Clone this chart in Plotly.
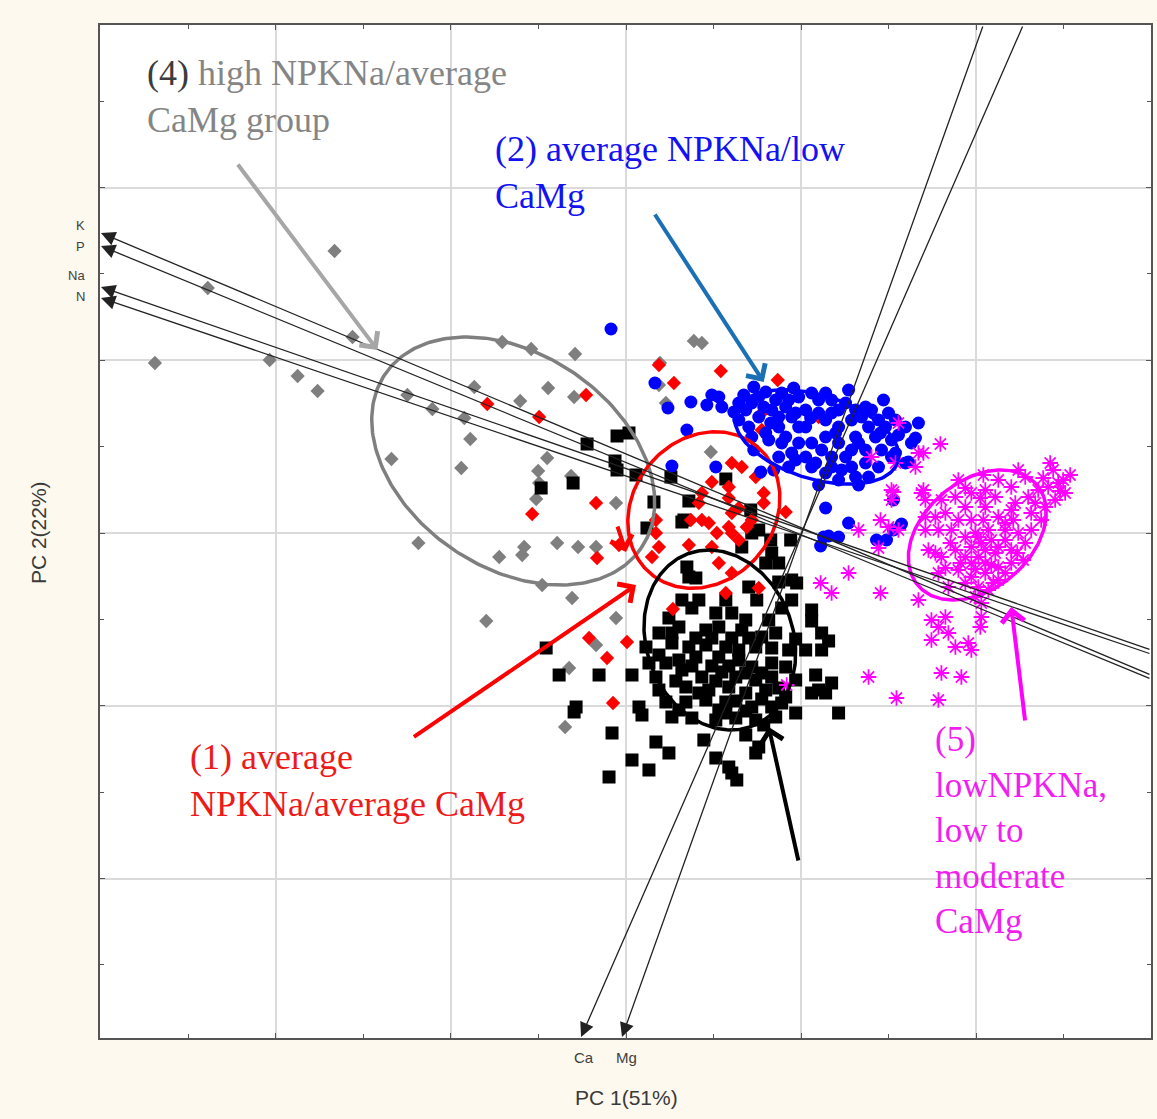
import numpy as np
import plotly.graph_objects as go

# ---- PCA scores (PC1, PC2) for each soil group ----
group4_scores = [(-4.72, 1.70), (-4.19, 2.45), (-3.57, 1.73), (-3.29, 1.57), (-3.09, 1.42), (-2.92, 2.82),
                 (-2.74, 1.96), (-2.35, 0.74), (-2.08, -0.10), (-2.19, 1.38), (-1.94, 1.24), (-1.62, 1.15),
                 (-1.52, 1.46), (-1.56, 0.94), (-1.65, 0.65), (-1.24, 1.91), (-0.95, 1.84), (-0.51, 1.79),
                 (-0.78, 1.45), (-0.52, 1.36), (-1.06, 1.32), (0.34, 1.70), (0.33, 1.48), (0.40, 1.30),
                 (0.68, 1.92), (0.76, 1.90), (0.85, 0.81), (-0.79, 0.75), (-0.88, 0.62), (-0.87, 0.50),
                 (-0.90, 0.34), (-0.55, 0.57), (-0.10, 0.30), (-0.69, -0.10), (-1.02, -0.14), (-1.04, -0.22),
                 (-0.48, -0.14), (-0.30, -0.14), (-1.27, -0.24), (-0.84, -0.52), (-0.54, -0.65), (-0.10, -0.85),
                 (-0.30, -1.12), (-0.57, -1.35), (-0.61, -1.94), (-1.40, -0.88)]

group3_scores = [(-0.09, 0.97), (-0.39, 0.89), (0.03, 1.00), (-0.11, 0.72), (-0.09, 0.63), (0.10, 0.58),
                 (0.45, 0.56), (1.00, 0.54), (-0.53, 0.50), (-0.85, 0.45), (0.28, 0.31), (0.63, 0.32),
                 (0.58, 0.13), (0.21, 0.05), (1.25, 0.23), (1.33, 0.03), (1.26, 0.00), (1.45, -0.07),
                 (1.16, -0.14), (1.65, -0.07), (1.46, -0.20), (1.53, -0.30), (1.40, -0.30), (1.66, -0.47),
                 (1.71, -0.50), (1.23, -0.54), (0.61, -0.34), (0.63, -0.44), (0.56, 0.11), (0.70, -0.45),
                 (1.53, -0.49), (0.56, -0.67), (1.00, -0.67), (1.31, -0.67), (1.86, -0.77), (1.86, -0.88),
                 (0.43, -0.85), (0.66, -0.75), (1.20, -0.87), (1.43, -0.87), (0.33, -1.00), (0.53, -0.94),
                 (0.80, -0.97), (0.93, -0.94), (1.16, -0.97), (1.36, -1.04), (1.96, -1.00), (2.03, -1.08),
                 (0.20, -1.14), (0.46, -1.10), (0.63, -1.14), (0.80, -1.12), (1.00, -1.14), (1.13, -1.17),
                 (1.30, -1.14), (1.46, -1.15), (1.63, -1.17), (1.80, -1.17), (1.96, -1.17), (0.23, -1.30),
                 (0.53, -1.27), (0.70, -1.24), (0.93, -1.24), (1.13, -1.27), (1.26, -1.34), (1.46, -1.30),
                 (1.60, -1.34), (0.30, -1.44), (0.56, -1.37), (0.76, -1.44), (0.96, -1.39), (1.10, -1.44),
                 (1.30, -1.47), (1.46, -1.44), (1.70, -1.47), (1.90, -1.42), (2.06, -1.50), (0.33, -1.57),
                 (0.60, -1.54), (0.83, -1.57), (1.03, -1.54), (1.20, -1.60), (1.40, -1.57), (1.60, -1.64),
                 (1.86, -1.60), (2.00, -1.60), (0.40, -1.69), (0.60, -1.69), (0.80, -1.67), (1.00, -1.69),
                 (1.26, -1.74), (1.46, -1.74), (1.70, -1.80), (2.13, -1.80), (0.46, -1.84), (0.66, -1.85),
                 (0.90, -1.87), (1.10, -1.85), (1.30, -1.87), (1.50, -1.84), (1.20, -2.02), (1.33, -2.14),
                 (1.30, -2.20), (0.16, -1.82), (0.13, -1.74), (-0.14, -2.00), (0.30, -2.09), (0.43, -2.20),
                 (0.06, -2.27), (0.23, -2.37), (0.90, -2.25), (1.03, -2.34), (1.06, -2.40), (1.11, -2.47),
                 (-0.17, -2.44), (-0.50, -1.74), (-0.67, -1.42), (-0.27, -1.42), (0.06, -1.42), (-0.80, -1.15),
                 (-0.52, -1.79), (1.66, -0.67), (1.93, -1.57), (0.73, -0.67), (0.33, -1.22), (0.93, -1.77),
                 (1.38, -1.92), (0.78, -2.07), (0.70, -1.05), (0.86, -1.05), (1.06, -1.05), (1.23, -1.05),
                 (0.66, -1.33), (0.86, -1.33), (1.03, -1.33), (1.20, -1.40), (1.36, -1.40), (0.50, -1.48),
                 (0.90, -1.48), (1.53, -1.55), (0.73, -1.60), (1.10, -1.68), (1.36, -1.66), (1.56, -1.70),
                 (0.53, -1.77), (1.00, -1.80), (1.20, -1.78), (0.40, -1.30), (0.46, -1.00), (1.06, -0.80),
                 (0.90, -0.80), (1.56, -0.75), (1.50, -1.00), (1.70, -1.06)]

group1_scores = [(-0.40, 1.38), (-0.87, 1.16), (0.33, 1.68), (0.48, 1.50), (0.95, 1.62), (1.52, 1.53),
                 (1.36, 1.20), (1.36, 1.03), (1.93, 1.16), (-0.30, 0.30), (-0.94, 0.19), (-0.29, -0.25),
                 (-0.07, -0.12), (1.06, 0.70), (1.16, 0.66), (0.86, 0.51), (1.03, 0.46), (1.30, 0.56),
                 (1.38, 0.40), (1.38, 0.30), (1.60, 0.21), (0.76, 0.40), (0.73, 0.30), (1.03, 0.35),
                 (1.13, 0.25), (0.65, 0.13), (0.76, 0.13), (0.83, 0.10), (1.06, 0.20), (1.03, 0.06),
                 (0.91, 0.00), (1.06, 0.00), (1.21, 0.06), (1.26, 0.13), (0.30, 0.13), (0.30, 0.00),
                 (0.33, -0.14), (0.26, -0.24), (0.86, -0.14), (0.93, -0.30), (1.06, -0.40), (-0.37, -1.05),
                 (0.01, -1.09), (-0.19, -1.25), (-0.13, -1.70), (1.00, -0.60), (0.47, -0.76), (1.33, -0.55),
                 (-1.39, 1.29), (1.13, -0.07), (0.63, -0.12)]

group2_scores = [(-0.15, 2.04), (0.29, 1.50), (0.42, 1.25), (0.65, 1.31), (0.81, 1.28), (0.86, 1.38),
                 (0.93, 1.36), (0.96, 1.26), (0.61, 1.03), (1.28, 1.46), (0.46, 0.67), (0.90, 0.66),
                 (1.35, 0.61), (2.00, 0.25), (2.23, 0.10), (1.98, -0.04), (2.13, -0.04), (1.95, -0.13),
                 (2.51, -0.07), (2.61, -0.07), (2.76, 0.09), (2.83, 0.71), (2.68, 0.33), (2.03, -0.03),
                 (2.68, 0.03), (1.13, 1.30), (1.20, 1.23), (1.13, 1.13), (1.23, 1.06), (1.33, 1.36),
                 (1.40, 1.41), (1.50, 1.33), (1.46, 1.23), (1.60, 1.26), (1.66, 1.16), (1.53, 1.06),
                 (1.73, 1.06), (1.80, 1.23), (1.86, 1.40), (1.93, 1.33), (2.00, 1.40), (2.06, 1.33),
                 (2.13, 1.23), (2.00, 1.13), (2.13, 1.06), (2.20, 1.30), (2.30, 1.23), (2.40, 1.26),
                 (2.46, 1.23), (2.53, 1.13), (2.60, 1.06), (2.70, 1.13), (2.80, 1.06), (2.43, 1.06),
                 (2.30, 0.96), (2.00, 0.96), (1.86, 0.90), (1.73, 0.90), (1.56, 0.90), (1.43, 0.93),
                 (1.66, 0.80), (1.80, 0.76), (1.90, 0.70), (2.06, 0.76), (2.20, 0.76), (2.40, 0.83),
                 (2.56, 0.83), (2.66, 0.76), (2.80, 0.70), (2.16, 0.63), (2.30, 0.56), (2.00, 0.60),
                 (1.86, 0.66), (1.53, 0.76), (1.63, 0.66), (2.53, 0.66), (2.43, 0.56), (2.13, 0.53),
                 (2.50, 0.96), (2.66, 0.93), (1.73, 1.36), (1.33, 1.16), (1.80, 1.06), (1.53, 1.16),
                 (2.13, 0.90), (2.26, 0.83), (1.08, 1.21), (1.68, 1.45), (2.23, 1.43), (2.58, 1.33),
                 (2.33, 0.48), (1.93, 0.48), (1.48, 0.63), (1.28, 0.83), (1.18, 1.38), (1.26, 1.30),
                 (1.38, 1.26), (1.56, 1.40), (1.63, 1.33), (1.93, 1.20), (2.06, 1.20), (2.26, 1.13),
                 (2.36, 1.16), (2.63, 1.20), (2.73, 0.98), (2.86, 0.90), (2.40, 0.70), (2.26, 0.66),
                 (2.06, 0.66), (1.70, 0.73), (1.60, 0.96), (1.40, 1.00), (1.96, 0.83), (2.33, 0.90),
                 (2.70, 0.80), (2.55, 1.00), (2.10, 1.00), (1.85, 1.15), (1.45, 1.10), (1.26, 0.96),
                 (2.90, 0.95), (2.93, 1.10), (1.70, 1.20)]

group5_scores = [(3.15, 0.89), (2.98, 0.80), (2.90, 0.66), (2.68, 0.41), (2.98, 0.43), (3.00, 0.33),
                 (2.55, 0.13), (2.33, 0.03), (2.63, 0.06), (2.53, -0.15), (2.23, -0.40), (1.95, -0.50),
                 (2.06, -0.60), (2.55, -0.60), (2.93, -0.67), (3.06, -0.87), (3.20, -0.84), (3.13, -0.94),
                 (3.56, -0.84), (3.55, -0.94), (3.06, -1.07), (3.23, -1.00), (3.30, -1.14), (3.43, -1.10),
                 (3.46, -1.17), (2.43, -1.44), (3.16, -1.40), (3.36, -1.44), (2.71, -1.65), (3.13, -1.67),
                 (2.73, 1.10), (2.46, 0.76), (2.70, 0.70), (2.93, 0.80), (2.66, 0.43), (2.66, 0.33),
                 (2.73, 0.03), (2.96, 0.40), (3.00, 0.16), (3.16, 0.33), (3.30, 0.36), (3.40, 0.26),
                 (3.60, 0.26), (3.46, 0.13), (3.73, 0.16), (3.86, 0.23), (4.06, 0.20), (4.03, 0.36),
                 (3.86, 0.46), (3.73, 0.53), (3.60, 0.43), (3.46, 0.40), (4.00, 0.56), (4.23, 0.46),
                 (4.33, 0.50), (4.40, 0.40), (4.30, 0.33), (4.20, 0.26), (4.16, 0.13), (4.06, 0.03),
                 (3.93, 0.00), (3.80, 0.03), (3.63, 0.03), (3.53, -0.04), (3.40, -0.04), (3.26, 0.03),
                 (3.13, 0.03), (3.00, 0.03), (3.03, -0.17), (3.16, -0.24), (3.30, -0.17), (3.46, -0.14),
                 (3.60, -0.17), (3.73, -0.14), (3.86, -0.17), (4.00, -0.10), (3.60, -0.30), (3.46, -0.30),
                 (3.33, -0.37), (3.46, -0.44), (3.60, -0.40), (3.73, -0.34), (3.86, -0.30), (3.73, -0.47),
                 (3.53, -0.54), (3.40, -0.50), (3.23, -0.54), (3.13, -0.40), (3.33, 0.13), (3.20, 0.20),
                 (3.10, 0.16), (3.66, -0.07), (3.80, -0.07), (3.53, -0.24), (3.40, -0.24), (3.63, -0.57),
                 (3.50, -0.64), (4.18, 0.55), (4.28, 0.63), (4.38, 0.53), (4.13, 0.43), (3.93, 0.63),
                 (3.58, 0.58), (3.33, 0.53), (3.88, 0.13), (3.58, 0.13), (3.98, -0.27), (1.61, -1.52),
                 (3.50, 0.00), (3.56, -0.10), (3.70, -0.20), (3.66, -0.32), (3.50, -0.36), (3.80, 0.10),
                 (3.90, 0.30), (4.10, 0.30), (3.70, 0.36), (3.55, 0.35), (3.40, 0.45), (4.45, 0.58),
                 (4.25, 0.70), (4.35, 0.42), (3.25, -0.10), (3.35, -0.30), (3.80, -0.40), (3.68, -0.50),
                 (3.56, -0.70), (3.92, -0.20), (3.20, -0.35), (3.10, -0.20)]

# ---- Confidence ellipses per group: centre PC1, centre PC2, semi-major, semi-minor, angle (deg) ----
ellipse_groups = ["4", "1", "3", "2", "5"]
ellipse_c1 = [-1.13, 0.78, 0.94, 1.91, 3.52]
ellipse_c2 = [0.72, 0.23, -1.07, 0.96, -0.02]
ellipse_a = [1.55, 0.83, 0.92, 0.85, 0.78]
ellipse_b = [1.07, 0.71, 0.735, 0.42, 0.54]
ellipse_angle = [-34, 50, -69.6, -17, 40]

# ---- Variable loading axes (arrow tip and opposite end, in PC units) ----
loading_names = ["K", "P", "Na", "N", "Ca", "Mg"]
loading_tip_pc1 = [-5.26, -5.26, -5.26, -5.26, -0.45, -0.04]
loading_tip_pc2 = [3.00, 2.87, 2.46, 2.35, -5.04, -5.04]
loading_end_pc1 = [5.26, 5.26, 5.26, 5.26, 3.98, 3.58]
loading_end_pc2 = [-1.42, -1.46, -1.17, -1.21, 5.08, 5.08]

X_RANGE = [-5.27, 5.26]
Y_RANGE = [-5.05, 5.08]

fig = go.Figure()


def add_group(scores, symbol, color, size, line=None):
    xs, ys = zip(*scores)
    marker = dict(symbol=symbol, size=size, color=color)
    marker["line"] = line if line else dict(width=0)
    fig.add_trace(go.Scatter(x=xs, y=ys, mode="markers", marker=marker,
                             hoverinfo="x+y", showlegend=False))


add_group(group4_scores, "diamond", "#7f7f7f", 11)
add_group(group3_scores, "square", "#000000", 13)
add_group(group1_scores, "diamond", "#ff0000", 11)
add_group(group2_scores, "circle", "#0000ff", 13)
add_group(group5_scores, "asterisk-open", "#ff00ff", 13, line=dict(color="#ff00ff", width=1.8))

ellipse_colors = {"4": "#7f7f7f", "1": "#ff0000", "3": "#000000", "2": "#0000ff", "5": "#ff00ff"}
t = np.linspace(0, 2 * np.pi, 240)
for g, cx, cy, a, b, ang in zip(ellipse_groups, ellipse_c1, ellipse_c2, ellipse_a, ellipse_b, ellipse_angle):
    th = np.radians(ang)
    ex = cx + a * np.cos(t) * np.cos(th) - b * np.sin(t) * np.sin(th)
    ey = cy + a * np.cos(t) * np.sin(th) + b * np.sin(t) * np.cos(th)
    fig.add_trace(go.Scatter(x=ex, y=ey, mode="lines",
                             line=dict(color=ellipse_colors[g], width=3.5),
                             hoverinfo="skip", showlegend=False))

annotations = []

# loading axes drawn as long arrows ending at the frame
for name, tx, ty, ex, ey in zip(loading_names, loading_tip_pc1, loading_tip_pc2,
                                loading_end_pc1, loading_end_pc2):
    annotations.append(dict(x=tx, y=ty, ax=ex, ay=ey, xref="x", yref="y", axref="x", ayref="y",
                            text="", showarrow=True, arrowhead=2, arrowsize=2.2,
                            arrowwidth=1.3, arrowcolor="#222222", standoff=0))

label_font = dict(family="Liberation Sans, Arial, sans-serif", size=13, color="#404040")
for name, ty in zip(["K", "P", "Na", "N"], [3.08, 2.87, 2.58, 2.37]):
    annotations.append(dict(x=-0.012, y=ty, xref="paper", yref="y", text=name, showarrow=False,
                            xanchor="right", yanchor="middle", font=label_font))
ca_font = dict(family="Liberation Sans, Arial, sans-serif", size=15, color="#404040")
for name, tx in zip(["Ca", "Mg"], [-0.42, 0.0]):
    annotations.append(dict(x=tx, y=-0.0197, xref="x", yref="paper", text=name, showarrow=False,
                            xanchor="center", yanchor="middle", font=ca_font))

# axis titles
title_font = dict(family="Liberation Sans, Arial, sans-serif", size=21, color="#3a3a3a")
annotations.append(dict(x=0.5005, y=-0.0592, xref="paper", yref="paper", text="PC 1(51%)",
                        showarrow=False, xanchor="center", yanchor="middle", font=title_font))
annotations.append(dict(x=-0.0589, y=0.4985, xref="paper", yref="paper", text="PC 2(22%)",
                        showarrow=False, xanchor="center", yanchor="middle", textangle=-90,
                        font=title_font))

# group descriptions
serif = "Liberation Serif, Times New Roman, serif"
group_texts = [
    ('<span style="color:#3c3c3c">(4)</span> high NPKNa/average<br>CaMg group', "#858585", 0.0427, 0.9294, 36),
    ("(2) average NPKNa/low<br>CaMg", "#1212f2", 0.3742, 0.8544, 36),
    ("(1) average<br>NPKNa/average CaMg", "#ee1a1a", 0.0836, 0.2542, 36),
    ("(5)<br>lowNPKNa,<br>low to<br>moderate<br>CaMg", "#f21ef0", 0.7930, 0.2048, 35),
]
for text, col, px, py, fs in group_texts:
    annotations.append(dict(x=px, y=py, xref="paper", yref="paper", text=text, showarrow=False,
                            xanchor="left", yanchor="middle", align="left",
                            font=dict(family=serif, size=fs, color=col)))

# pointer arrows from descriptions to the ellipses
pointers = [
    ((-3.90, 3.70), (-2.49, 1.83), "#a6a6a6"),
    ((0.28, 3.20), (1.38, 1.51), "#1a6fb5"),
    ((-2.14, -2.05), (0.10, -0.52), "#ff0000"),
    ((-0.09, 0.08), (0.00, -0.19), "#ff0000"),
    ((1.73, -3.29), (1.43, -1.94), "#000000"),
    ((4.00, -1.89), (3.86, -0.74), "#ff00ff"),
]
for (sx, sy), (hx, hy), col in pointers:
    annotations.append(dict(x=hx, y=hy, ax=sx, ay=sy, xref="x", yref="y", axref="x", ayref="y",
                            text="", showarrow=True, arrowhead=4, arrowsize=1.1,
                            arrowwidth=4, arrowcolor=col, standoff=0))

axis_common = dict(showgrid=True, gridcolor="#dadada", gridwidth=1.5, zeroline=False,
                   showticklabels=False, ticks="inside", ticklen=5, tickcolor="#555555",
                   showline=True, linecolor="#555555", linewidth=2, mirror="ticks")

fig.update_xaxes(range=X_RANGE, tick0=0, dtick=1.755,
                 minor=dict(dtick=0.8775, ticks="inside", ticklen=4, tickcolor="#555555", showgrid=False),
                 **axis_common)
fig.update_yaxes(range=Y_RANGE, tick0=0, dtick=1.7275,
                 minor=dict(dtick=0.86375, ticks="inside", ticklen=4, tickcolor="#555555", showgrid=False),
                 **axis_common)

fig.update_layout(width=1157, height=1119, margin=dict(l=100, r=4, t=25, b=81),
                  paper_bgcolor="#fdf9ee", plot_bgcolor="#ffffff", showlegend=False,
                  annotations=annotations)

fig.write_html("out.html")
